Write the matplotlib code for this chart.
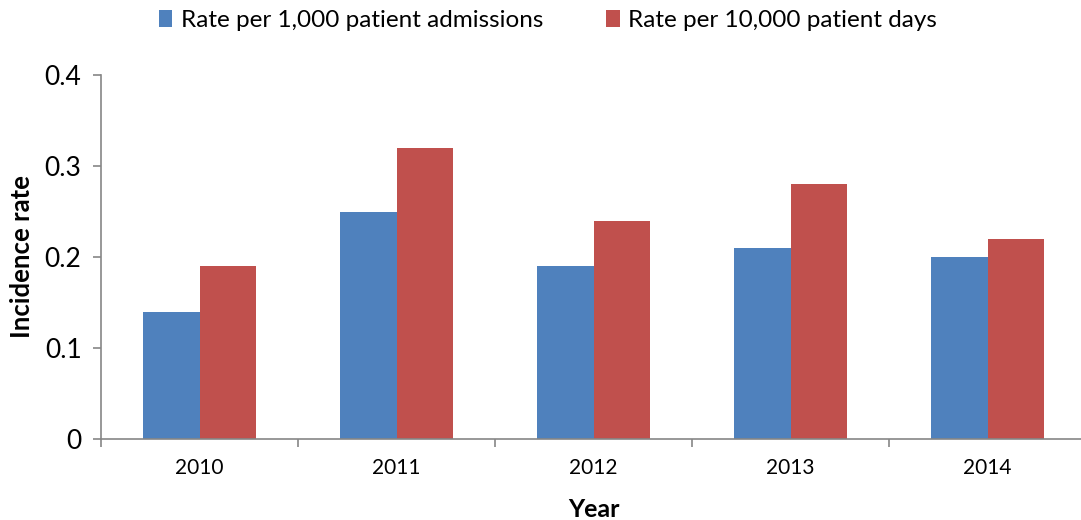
import numpy as np
import matplotlib.pyplot as plt

years = ['2010', '2011', '2012', '2013', '2014']
rate_admissions = [0.14, 0.25, 0.19, 0.21, 0.20]
rate_days = [0.19, 0.32, 0.24, 0.28, 0.22]
series_names = ['Rate per 1,000 patient admissions', 'Rate per 10,000 patient days']

plt.rcParams['font.family'] = ['Lato', 'DejaVu Sans']

fig = plt.figure(figsize=(10.81, 5.20), dpi=100)
ax = fig.add_axes([101 / 1081, 81 / 520, 985 / 1081, 364 / 520])

x = np.arange(len(years))
w = 0.285
ax.bar(x - w / 2, rate_admissions, w, color='#4f81bd', label=series_names[0])
ax.bar(x + w / 2, rate_days, w, color='#c0504d', label=series_names[1])

ax.set_xlim(-0.5, len(years) - 0.5)
ax.set_ylim(0, 0.4)
ax.set_yticks([0, 0.1, 0.2, 0.3, 0.4])
ax.set_yticklabels(['0', '0.1', '0.2', '0.3', '0.4'], fontsize=19)
ax.set_xticks(x)
ax.set_xticklabels(years, fontsize=15)
ax.set_xticks(np.arange(len(years) + 1) - 0.5, minor=True)
ax.tick_params(axis='x', which='major', length=0, pad=14)
ax.tick_params(axis='x', which='minor', length=6, color='#868686', width=1.2)
ax.tick_params(axis='y', length=6, color='#868686', width=1.2, pad=8)

for s in ['top', 'right']:
    ax.spines[s].set_visible(False)
for s in ['left', 'bottom']:
    ax.spines[s].set_color('#868686')
    ax.spines[s].set_linewidth(1.2)

ax.set_ylabel('Incidence rate', fontsize=18.5, fontweight='bold', labelpad=8)
ax.set_xlabel('Year', fontsize=18, fontweight='bold', labelpad=14)

fig.legend(loc='center', bbox_to_anchor=(0.507, 0.96), ncol=2, frameon=False,
           fontsize=17.5, handlelength=0.55, handleheight=0.7, handletextpad=0.35,
           columnspacing=2.6)

fig.savefig('out.png', dpi=100)
